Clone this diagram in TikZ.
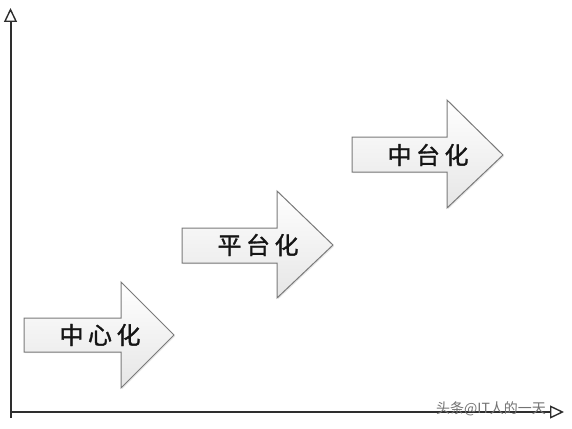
\documentclass[tikz,border=0pt]{standalone}
\usepackage{fontspec}
\newfontfamily\cjk{Noto Sans CJK SC}
\newfontfamily\cjkm[FakeBold=1.3]{Noto Sans CJK SC}
\usetikzlibrary{arrows.meta,shadows}
\definecolor{axiscol}{HTML}{2E2E2E}
\definecolor{edgecol}{HTML}{7A7A7A}
\definecolor{txtcol}{HTML}{151515}
\newcommand{\cjsp}{\hspace{4.5pt}}
\tikzset{
  axisline/.style={draw=axiscol, line width=2pt, -{Triangle[open, length=14pt, width=13pt, line width=1.4pt]}},
  bigarrow/.style={draw=edgecol, line width=1pt, line join=miter, top color=white, bottom color=black!10,
    drop shadow={opacity=0.18, shadow xshift=1.2pt, shadow yshift=-1.2pt}},
  arrowtext/.style={font=\cjkm\fontsize{24}{26}\selectfont, text=txtcol, inner sep=0pt},
  wmark/.style={font=\cjk\fontsize{14}{15}\selectfont, text=black!55, inner sep=0pt, anchor=west}
}
\begin{document}
\begin{tikzpicture}[x=1pt,y=-1pt]
\useasboundingbox (0,0) rectangle (572,428);
\fill[white] (0,0) rectangle (572,428);
% axes
\coordinate (origin) at (10.5,412);
\coordinate (ytip) at (10.5,8);
\coordinate (ybottom) at (10.5,418);
\coordinate (xtip) at (564,412);
\draw[axisline] (ybottom) -- (ytip);
\draw[axisline] (origin) -- (xtip);
% arrow 1
\path[bigarrow] (24,318) -- (121,318) -- (121,282) -- (174,335) -- (121,388) -- (121,352) -- (24,352) -- cycle;
\node[arrowtext] (a1) at (100,335) {中\cjsp 心\cjsp 化};
% arrow 2
\path[bigarrow] (182,228) -- (277,228) -- (277,191) -- (333,245) -- (277,298) -- (277,263) -- (182,263) -- cycle;
\node[arrowtext] (a2) at (258,245) {平\cjsp 台\cjsp 化};
% arrow 3
\path[bigarrow] (352,137) -- (447,137) -- (447,100) -- (503,155) -- (447,208) -- (447,172) -- (352,172) -- cycle;
\node[arrowtext] (a3) at (428,155) {中\cjsp 台\cjsp 化};
% watermark
\node[wmark] (wm) at (436,409) {头条@IT人的一天};
\end{tikzpicture}
\end{document}
